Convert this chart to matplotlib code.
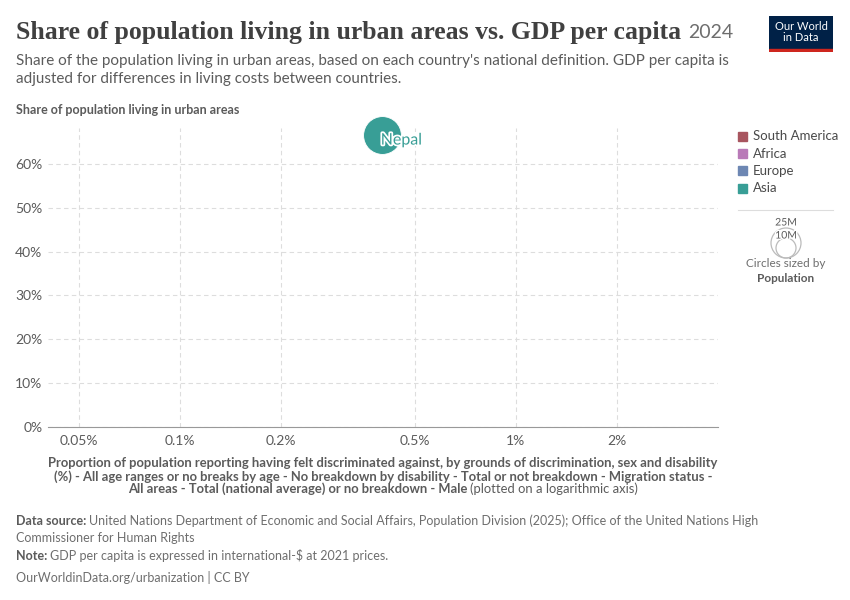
import matplotlib.pyplot as plt
import matplotlib.patches as mpatches
import matplotlib.patheffects as pe
import matplotlib.ticker as mticker

plt.rcParams['font.family'] = ['Lato', 'DejaVu Sans']

# data
countries = ["Nepal"]
continents = ["Asia"]
discrimination_pct = [0.40]
urban_share = [66.6]
population_m = [29.7]

legend_names = ["South America", "Africa", "Europe", "Asia"]
legend_colors = ["#a8555f", "#b97ab8", "#6d87b3", "#389e96"]
region_colors = dict(zip(legend_names, legend_colors))

x_ticks = [0.05, 0.1, 0.2, 0.5, 1, 2]
x_tick_labels = ["0.05%", "0.1%", "0.2%", "0.5%", "1%", "2%"]
y_ticks = [0, 10, 20, 30, 40, 50, 60]

fig = plt.figure(figsize=(8.5, 6), dpi=100)
ax = fig.add_axes([48 / 850, 1 - 427 / 600, 670 / 850, 299 / 600])

ax.set_xscale('log')
ax.set_xlim(0.0405, 4.0)
ax.set_ylim(0, 68.2)

sizes = [p * 25 for p in population_m]
for x, y, s, c, name in zip(discrimination_pct, urban_share, sizes, continents, countries):
    ax.scatter(x, y, s=s, color=region_colors[c], edgecolor='white', linewidth=0.6,
               zorder=3, clip_on=False)
    ax.annotate(name, (x, y), xytext=(-1, -4), textcoords='offset points',
                fontsize=11.5, color=region_colors[c], ha='left', va='center', zorder=4,
                path_effects=[pe.withStroke(linewidth=2.5, foreground='white')])

ax.set_xticks(x_ticks)
ax.set_xticklabels(x_tick_labels)
ax.xaxis.set_minor_locator(mticker.NullLocator())
ax.set_yticks(y_ticks)
ax.set_yticklabels([f"{v}%" for v in y_ticks])
ax.tick_params(axis='both', length=0, labelsize=10, colors='#5b5b5b', pad=6)
ax.tick_params(axis='y', pad=4)

ax.grid(True, color='#dddddd', linestyle=(0, (4, 3)), linewidth=0.8)
for side in ['top', 'right', 'left']:
    ax.spines[side].set_visible(False)
ax.spines['bottom'].set_color('#999999')
ax.set_axisbelow(True)

renderer = fig.canvas.get_renderer()

# axis titles
fig.text(383 / 850, 1 - 470 / 600,
         "Proportion of population reporting having felt discriminated against, by grounds of discrimination, sex and disability\n"
         "(%) - All age ranges or no breaks by age - No breakdown by disability - Total or not breakdown - Migration status -",
         ha='center', va='center', fontsize=9.4, color='#5b5b5b', fontweight='bold', linespacing=1.1)
last_bold = fig.text(0, 1 - 489 / 600, "All areas - Total (national average) or no breakdown - Male ",
                     ha='left', va='center', fontsize=9.4, color='#5b5b5b', fontweight='bold')
last_norm = fig.text(0, 1 - 489 / 600, "(plotted on a logarithmic axis)",
                     ha='left', va='center', fontsize=9.4, color='#5b5b5b')
w1 = last_bold.get_window_extent(renderer).width
w2 = last_norm.get_window_extent(renderer).width
x0 = 383 - (w1 + w2) / 2
last_bold.set_x(x0 / 850)
last_norm.set_x((x0 + w1) / 850)

fig.text(16 / 850, 1 - 110 / 600, "Share of population living in urban areas",
         ha='left', va='center', fontsize=9, color='#5b5b5b', fontweight='bold')

# titles
title = fig.text(16 / 850, 1 - 32 / 600, "Share of population living in urban areas vs. GDP per capita",
                 ha='left', va='center', fontsize=18.5, color='#404040', family='Liberation Serif',
                 fontweight='bold')
tw = title.get_window_extent(renderer).width
fig.text((16 + tw + 7) / 850, 1 - 32 / 600, "2024", ha='left', va='center', fontsize=14,
         color='#6e6e6e')
fig.text(16 / 850, 1 - 70 / 600,
         "Share of the population living in urban areas, based on each country's national definition. GDP per capita is\n"
         "adjusted for differences in living costs between countries.",
         ha='left', va='center', fontsize=11, color='#5b5b5b', linespacing=1.35)

# logo
logo = fig.add_axes([769 / 850, 1 - 52 / 600, 64 / 850, 36 / 600])
logo.set_xlim(0, 1)
logo.set_ylim(0, 1)
logo.axis('off')
logo.add_patch(mpatches.Rectangle((0, 0.08), 1, 0.92, color='#002147'))
logo.add_patch(mpatches.Rectangle((0, 0), 1, 0.08, color='#ce261e'))
logo.text(0.5, 0.55, "Our World\nin Data", ha='center', va='center', color='white',
          fontsize=8, linespacing=1.0)

# legend
for i, (name, col) in enumerate(zip(legend_names, legend_colors)):
    yy = 1 - (136 + i * 17.5) / 600
    fig.patches.append(mpatches.Rectangle((738 / 850, yy - 4.5 / 600), 9 / 850, 9 / 600,
                                          color=col, transform=fig.transFigure))
    fig.text(753 / 850, yy, name, ha='left', va='center', fontsize=9.5, color='#4a4a4a')

fig.add_artist(plt.Line2D([738 / 850, 833 / 850], [1 - 210 / 600, 1 - 210 / 600],
                          color='#dddddd', linewidth=0.8))
sz = fig.add_axes([761 / 850, 1 - 270 / 600, 50 / 850, 50 / 600])
sz.set_xlim(-25, 25)
sz.set_ylim(-25, 25)
sz.axis('off')
sz.add_patch(mpatches.Circle((0, 2), 15, fill=False, edgecolor='#bbbbbb', linewidth=0.9))
sz.add_patch(mpatches.Circle((0, -3), 10, fill=False, edgecolor='#bbbbbb', linewidth=0.9))
fig.text(786 / 850, 1 - 223 / 600, "25M", ha='center', va='center', fontsize=7.5, color='#5b5b5b',
         path_effects=[pe.withStroke(linewidth=2, foreground='white')])
fig.text(786 / 850, 1 - 236 / 600, "10M", ha='center', va='center', fontsize=7.5, color='#5b5b5b',
         path_effects=[pe.withStroke(linewidth=2, foreground='white')])
fig.text(786 / 850, 1 - 264 / 600, "Circles sized by", ha='center', va='center', fontsize=8.5, color='#6e6e6e')
fig.text(786 / 850, 1 - 278 / 600, "Population", ha='center', va='center', fontsize=8.5,
         color='#5b5b5b', fontweight='bold')

# footer
src_lbl = fig.text(16 / 850, 1 - 521 / 600, "Data source: ", ha='left', va='center', fontsize=9,
                   color='#5b5b5b', fontweight='bold')
sw = src_lbl.get_window_extent(renderer).width
fig.text((16 + sw) / 850, 1 - 521 / 600,
         "United Nations Department of Economic and Social Affairs, Population Division (2025); Office of the United Nations High",
         ha='left', va='center', fontsize=9, color='#6e6e6e')
fig.text(16 / 850, 1 - 538 / 600, "Commissioner for Human Rights", ha='left', va='center',
         fontsize=9, color='#6e6e6e')
note_lbl = fig.text(16 / 850, 1 - 556 / 600, "Note: ", ha='left', va='center', fontsize=9,
                    color='#5b5b5b', fontweight='bold')
nw = note_lbl.get_window_extent(renderer).width
fig.text((16 + nw) / 850, 1 - 556 / 600, "GDP per capita is expressed in international-$ at 2021 prices.",
         ha='left', va='center', fontsize=9, color='#6e6e6e')
fig.text(16 / 850, 1 - 577 / 600, "OurWorldinData.org/urbanization | CC BY", ha='left', va='center',
         fontsize=9, color='#6e6e6e')

fig.savefig("out.png", dpi=100)
